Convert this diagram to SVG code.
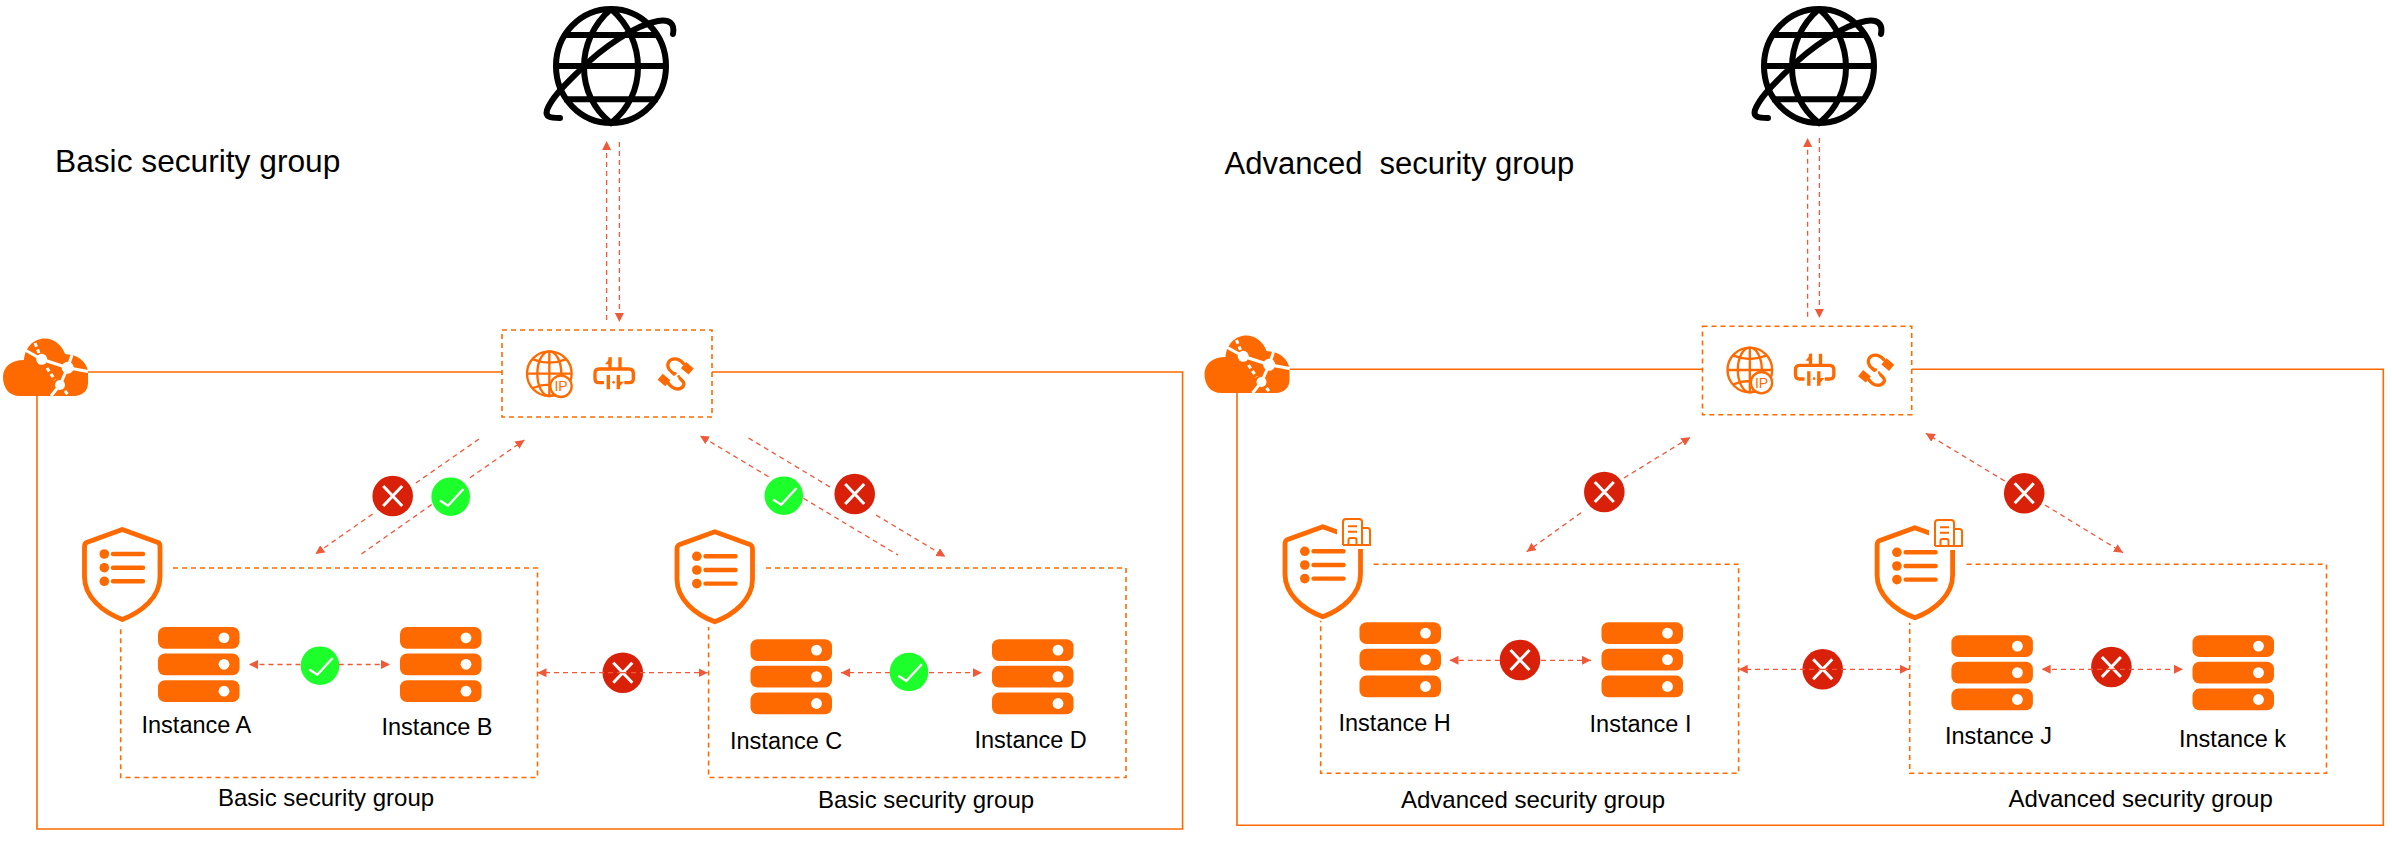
<svg xmlns="http://www.w3.org/2000/svg" width="2392" height="847" viewBox="0 0 2392 847">
<style>
text{font-family:"Liberation Sans",Arial,sans-serif;fill:#000}
.title{font-size:31.7px}
.lab{font-size:23.5px}
.grp{font-size:24px}
.frame{fill:none;stroke:#FF6A00;stroke-width:1.6}
.box{fill:none;stroke:#FF6A00;stroke-width:1.6;stroke-dasharray:5 4}
.arr{fill:none;stroke:#F0583A;stroke-width:1.3;stroke-dasharray:5 4;marker-end:url(#head)}
.plain{fill:none;stroke:#F0583A;stroke-width:1.3;stroke-dasharray:5 4}
.o{fill:#FF6A00}
.os{fill:none;stroke:#FF6A00}
.gl{fill:none;stroke:#000;stroke-width:6}
</style>
<defs>
<marker id="head" viewBox="0 0 10 10" refX="10" refY="5" markerWidth="9" markerHeight="9" markerUnits="userSpaceOnUse" orient="auto"><path d="M0,0L10,5L0,10Z" fill="#F0583A"/></marker>
<g id="server">
<rect width="81.5" height="21.7" rx="7" class="o"/><rect y="26.5" width="81.5" height="21.7" rx="7" class="o"/><rect y="53.3" width="81.5" height="21.7" rx="7" class="o"/>
<circle cx="66" cy="10.8" r="5.4" fill="#fff"/><circle cx="66" cy="37.3" r="5.4" fill="#fff"/><circle cx="66" cy="64.2" r="5.4" fill="#fff"/>
</g>
<g id="shield">
<path class="os" stroke-width="4.8" stroke-linejoin="round" d="M40.3,2.4 L76,15.5 Q78,16.5 78,20 L78,50 C78,70 60,85 40.3,92.5 C20.5,85 2.5,70 2.5,50 L2.5,20 Q2.5,16.5 4.5,15.5 Z"/>
<g class="o"><circle cx="22.3" cy="27" r="4.8"/><circle cx="22.3" cy="40.7" r="4.8"/><circle cx="22.3" cy="54.3" r="4.8"/></g>
<path class="os" stroke-width="4.4" stroke-linecap="round" d="M31,27H61M31,40.7H61M31,54.3H61"/>
</g>
<g id="building">
<rect x="-5" y="-3" width="37" height="34" fill="#fff"/>
<path class="os" stroke-width="2" d="M1,27 V4 Q1,1 4,1 H17 Q20,1 20,4 V27 M20,10 H25.5 Q28,10 28,12.5 V27 H1 M6,8.2 H15 M6,13.7 H15 M6.5,27 V22 Q6.5,20 8.5,20 H12.5 Q14.5,20 14.5,22 V27"/>
</g>
<g id="cloud">
<path class="o" d="M20,76 C9,76 3,68 3,57 C3,47 11,40 24,40 C25,28 33,18.5 45,18.5 C54,18.5 62,25 65,34 L72,35 C81,37 88,45 88,53 V63 C88,71 82,76 74,76 Z"/>
<path fill="none" stroke="#fff" stroke-width="3" d="M25,30 L41.7,39.3 L67.7,47.7 L60,65 L51,76 M67.7,47.7 L72,35 M67.7,47.7 L88,51.5"/>
<path fill="none" stroke="#fff" stroke-width="3" d="M35,23 L39,33 M47,48 L55,60 M65,71 L68,75" stroke-dasharray="4 3"/>
<circle cx="41.7" cy="39.3" r="5.5" fill="#fff"/><circle cx="67.7" cy="47.7" r="6" fill="#fff"/><circle cx="60" cy="65" r="5" fill="#fff"/>
</g>
<g id="globe">
<ellipse cx="81" cy="66" rx="55" ry="57" class="gl"/>
<path class="gl" d="M81,9 C45,40 45,95 81,123 C117,95 117,40 81,9 M33,35 H129 M24,66 H138 M34,99.3 H128"/>
<path class="gl" stroke-linecap="round" d="M143,34 C145,24 140,19 128,21 C105,25 72,48 50,70 C35,85 22,97 17,110 C15,117 20,118 30,118"/>
</g>
<g id="gateway">
<g transform="scale(.3333)">
<circle cx="142" cy="131" r="67" class="os" stroke-width="7"/>
<ellipse cx="142" cy="131" rx="36" ry="67" class="os" stroke-width="7"/>
<path class="os" stroke-width="7" d="M142,64V198M75,131H209M93,88 Q142,108 191,88 M93,174 Q142,154 191,174"/>
<circle cx="177" cy="169" r="32" fill="#fff" stroke="#FF6A00" stroke-width="7"/>
<text x="177" y="184" text-anchor="middle" style="font-size:42px;fill:#FF6A00">IP</text>
<path class="os" stroke-width="10" d="M306,158 H291 Q279,158 279,146 V130 Q279,117 291,117 H381 Q394,117 394,130 V146 Q394,158 381,158 H367"/>
<path class="os" stroke-width="10" d="M324,82 V117 M354,82 V117 M319,135 V178 M349,135 V178"/>
<path class="o" d="M328,80 V103 H309 Z M345,178 V155 H366 Z"/>
<circle cx="335" cy="157" r="4" class="o"/>
<path class="os" stroke-width="10" stroke-linecap="round" d="M544,100 C524,78 494,85 498,110 C500,122 509,125 516,132 M534,145 C544,155 549,160 544,168 C534,182 514,180 499,160"/>
<circle cx="520" cy="130" r="4" class="o"/><circle cx="530" cy="139" r="4" class="o"/>
<rect x="-15" y="-12" width="30" height="24" transform="translate(556,115) rotate(40)" class="o"/>
<rect x="-15" y="-12" width="30" height="24" transform="translate(486,150) rotate(40)" class="o"/>
</g>
</g>
<g id="ok"><circle r="19.3" fill="#1DFF2B"/><path d="M-10.7,3.7 L-2.7,9 L12.7,-7.7" fill="none" stroke="#fff" stroke-width="2.4"/></g>
<g id="no"><circle r="20.3" fill="#D9210A"/><path d="M-9.5,-10 L9.5,10 M9.5,-10 L-9.5,10" fill="none" stroke="#fff" stroke-width="3"/></g>
</defs>

<g id="frames">
<path class="frame" d="M88,372 H502 M712,372 H1182.6 V829 H37 V396"/>
<path class="frame" d="M1290,369.3 H1702.5 M1911.7,369.3 H2383.3 V825.3 H1237 V392.7"/>
</g>

<g id="basic-title"><text class="title" x="55" y="172">Basic security group</text></g>
<g id="advanced-title"><text class="title" x="1224.5" y="174" xml:space="preserve" style="font-size:31px">Advanced  security group</text></g>

<g id="internet-basic"><use href="#globe" x="530"/></g>
<g id="internet-advanced"><use href="#globe" x="1738"/></g>

<g id="cloud-basic"><use href="#cloud" y="320"/></g>
<g id="cloud-advanced"><use href="#cloud" x="1201.5" y="317"/></g>

<g id="gateway-basic"><rect class="box" x="502" y="330" width="210" height="87"/><use href="#gateway" x="502" y="330"/></g>
<g id="gateway-advanced"><rect class="box" x="1702.5" y="326.3" width="209.2" height="88.4"/><use href="#gateway" x="1702.5" y="326.3"/></g>

<g id="sg-a"><path class="box" d="M173,568 H537.5 V777.5 H120.7 V625"/><use href="#shield" x="82" y="527"/><text class="grp" x="218" y="806">Basic security group</text></g>
<g id="sg-b"><path class="box" d="M766,568 H1126 V777.5 H708.6 V627"/><use href="#shield" x="674.5" y="529.3"/><text class="grp" x="818" y="808">Basic security group</text></g>
<g id="sg-c"><path class="box" d="M1373.6,564.3 H1738.6 V773.3 H1320.7 V620.7"/><use href="#shield" x="1282.5" y="524.3"/><use href="#building" x="1342" y="518"/><text class="grp" x="1401" y="808">Advanced security group</text></g>
<g id="sg-d"><path class="box" d="M1966.6,564.3 H2326.5 V773.3 H1909.7 V622.7"/><use href="#shield" x="1874.6" y="525.3"/><use href="#building" x="1934" y="519"/><text class="grp" x="2008.6" y="806.7">Advanced security group</text></g>

<g id="instance-a"><use href="#server" x="158" y="627"/><text class="lab" x="141.5" y="733">Instance A</text></g>
<g id="instance-b"><use href="#server" x="400" y="627"/><text class="lab" x="381.5" y="735">Instance B</text></g>
<g id="instance-c"><use href="#server" x="750.5" y="639.3"/><text class="lab" x="730" y="749">Instance C</text></g>
<g id="instance-d"><use href="#server" x="992" y="639.3"/><text class="lab" x="974.5" y="748">Instance D</text></g>
<g id="instance-h"><use href="#server" x="1359.5" y="622.3"/><text class="lab" x="1338.5" y="730.7">Instance H</text></g>
<g id="instance-i"><use href="#server" x="1601.5" y="622.3"/><text class="lab" x="1589.6" y="731.7">Instance I</text></g>
<g id="instance-j"><use href="#server" x="1951.4" y="635.3"/><text class="lab" x="1945" y="744">Instance J</text></g>
<g id="instance-k"><use href="#server" x="2192.5" y="635.3"/><text class="lab" x="2179" y="746.7">Instance k</text></g>

<g id="badges">
<use href="#no" x="392.7" y="496"/><use href="#ok" x="450.7" y="496.7"/>
<use href="#ok" x="783.8" y="495.7"/><use href="#no" x="854.7" y="494"/>
<use href="#ok" x="320" y="665.7"/><use href="#ok" x="909" y="672"/><use href="#no" x="622.8" y="672.7"/>
<use href="#no" x="1604.3" y="492"/><use href="#no" x="2024.2" y="493.3"/>
<use href="#no" x="1520" y="660"/><use href="#no" x="1822.7" y="669.3"/><use href="#no" x="2111.4" y="667"/>
</g>

<g id="connectors">
<path class="arr" d="M606.6,320 V141"/><path class="arr" d="M619.4,142 V322"/>
<path class="arr" d="M1807.6,316.7 V138"/><path class="arr" d="M1819.4,138 V318"/>
<path class="plain" d="M479,439 L413,485"/><path class="arr" d="M372.6,514 L315.4,554"/>
<path class="plain" d="M361.4,554 L432,504.3"/><path class="arr" d="M470,477.7 L524.4,440"/>
<path class="arr" d="M768.6,476.7 L700,435.7"/><path class="plain" d="M803.4,498.3 L898,555"/>
<path class="plain" d="M748.5,438 L833.3,489"/><path class="arr" d="M876,515 L945.4,556.7"/>
<path class="arr" d="M300.5,664.5 H249"/><path class="arr" d="M338.7,664.5 H390"/>
<path class="arr" d="M890,672.7 H841"/><path class="arr" d="M929,672.7 H982"/>
<path class="arr" d="M622,672.7 H537.5"/><path class="arr" d="M622,672.7 H707.6"/>
<path class="arr" d="M1624,478 L1690.3,437.3"/><path class="arr" d="M1581,512.7 L1526.7,551.7"/>
<path class="arr" d="M2004.7,481 L1925.8,433.3"/><path class="arr" d="M2045,505 L2123,552.7"/>
<path class="arr" d="M1499.8,660.3 H1449.5"/><path class="arr" d="M1541,660.3 H1591"/>
<path class="arr" d="M1823,669.3 H1738.7"/><path class="arr" d="M1823,669.3 H1909"/>
<path class="arr" d="M2111,669.3 H2041.6"/><path class="arr" d="M2111,669.3 H2183"/>
</g>
</svg>
